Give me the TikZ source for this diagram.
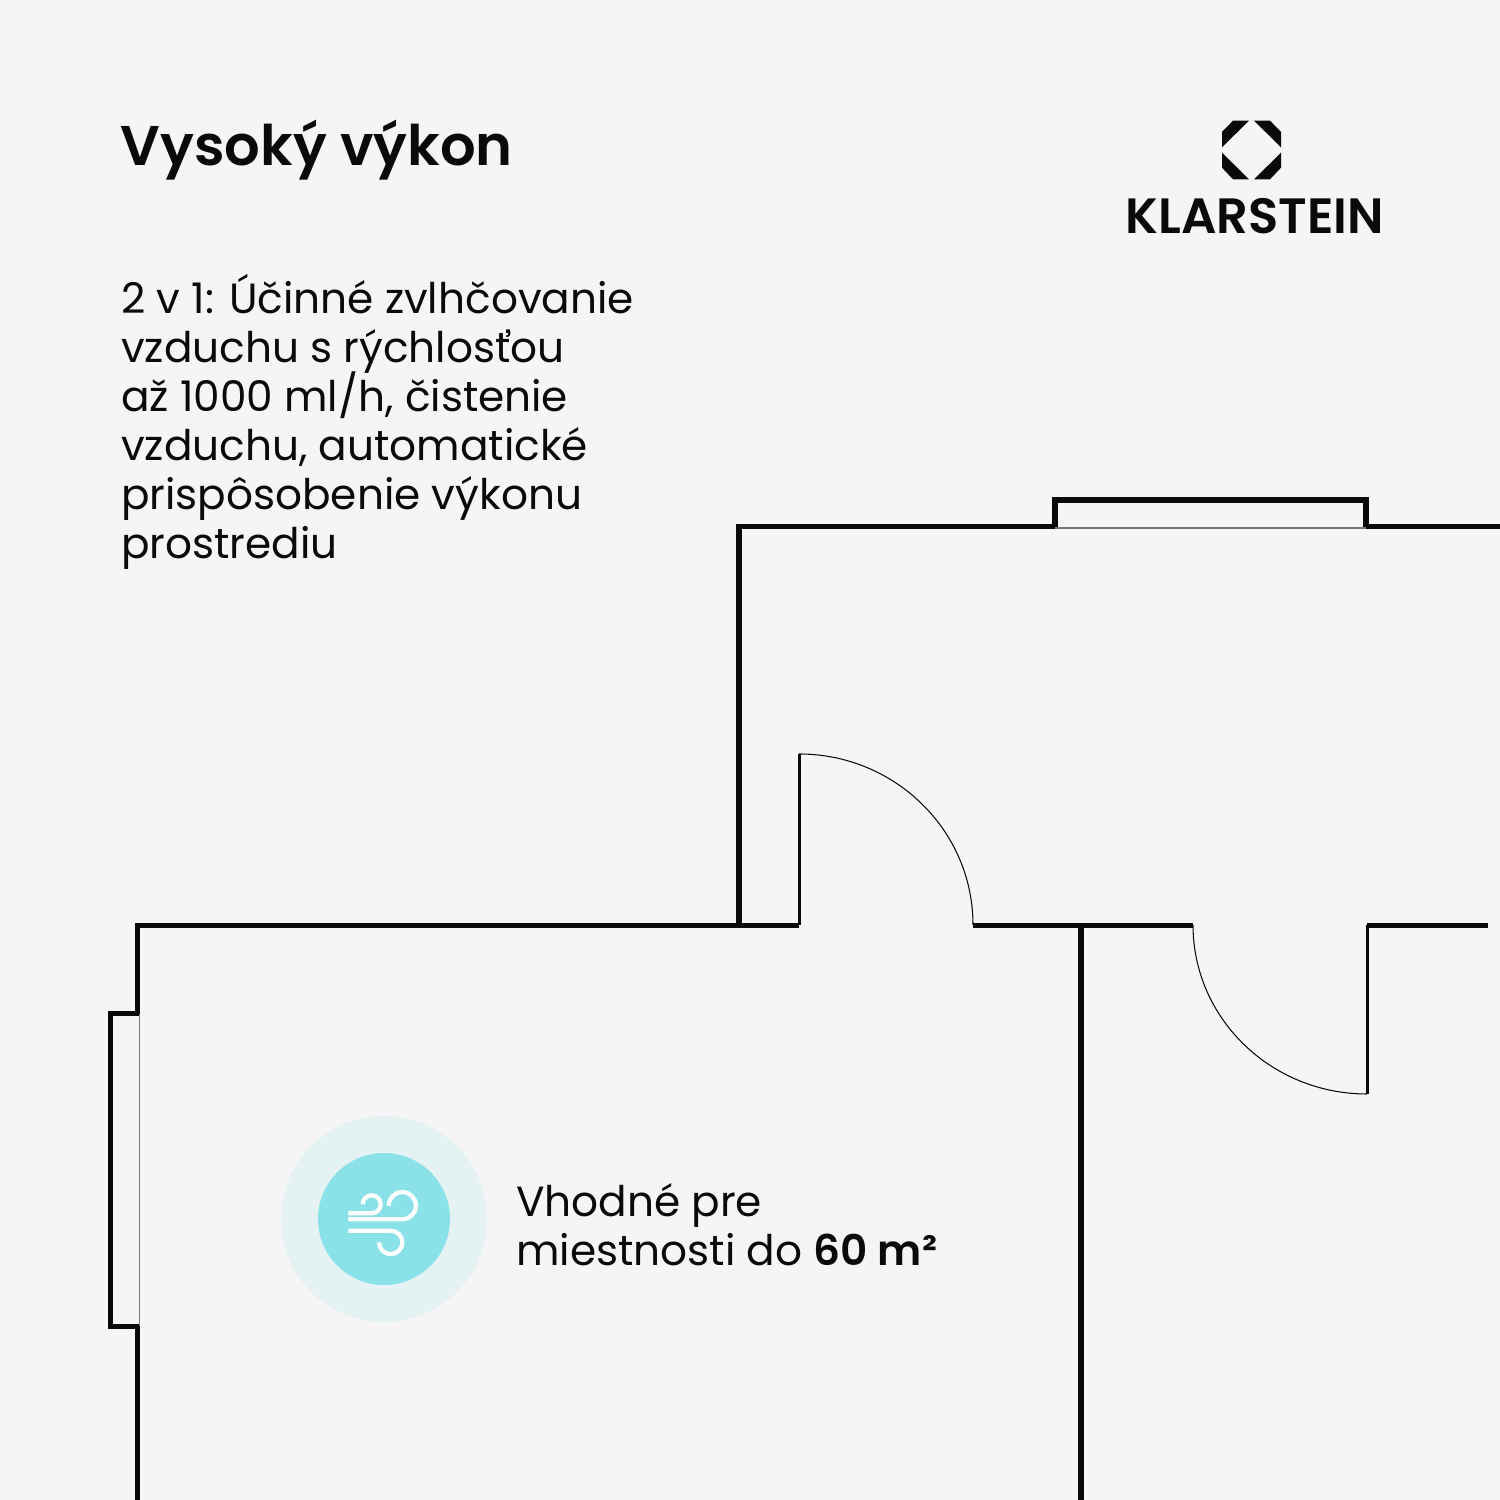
\documentclass[tikz,border=0pt]{standalone}
\usepackage{fontspec}
\setmainfont{Poppins}
\newfontfamily\headfont{Poppins SemiBold}
\definecolor{pagebg}{HTML}{F5F5F5}
\definecolor{halo}{HTML}{E4F2F3}
\definecolor{disc}{HTML}{8AE1E7}
\definecolor{ink}{HTML}{0A0A0A}
\setlength{\lineskiplimit}{-20pt}
\tikzset{
  wall/.style={line width=1.45pt,draw=ink,line cap=butt,line join=miter},
  leaf/.style={line width=0.85pt,draw=ink},
  thin/.style={line width=0.3pt,draw=ink},
  sill/.style={line width=0.3pt,draw=ink!55},
  gust/.style={line width=1.2pt,draw=white,line cap=butt},
  logopiece/.style={fill=ink},
  txt/.style={inner sep=0pt,text=ink,align=left},
  bodytxt/.style={txt,font=\fontsize{12pt}{13.94pt}\selectfont}
}
\begin{document}
\begin{tikzpicture}[x=0.01cm,y=0.01cm]
\useasboundingbox (0,0) rectangle (1500,1500);
\fill[pagebg] (0,0) rectangle (1500,1500);

% upper room
\draw[wall] (1500,973.7) -- (1366,973.7) -- (1366,1000) -- (1055,1000) -- (1055,973.7) -- (739,973.7) -- (739,575);
\draw[sill] (1055,972) -- (1366,972);

% lower rooms
\draw[wall] (137.5,0) -- (137.5,574.7) -- (799,574.7);
\draw[wall] (973,574.7) -- (1193,574.7);
\draw[wall] (1367,574.7) -- (1488,574.7);
\draw[wall] (1081,575) -- (1081,0);
\draw[wall] (137.5,486) -- (110.5,486) -- (110.5,174) -- (137.5,174);
\draw[sill] (139.5,486) -- (139.5,174);
\fill[pagebg] (113,484) rectangle (139,176);

% doors
\draw[leaf] (799,575) -- (799,746);
\draw[thin] (799,746) arc[start angle=90,end angle=0,x radius=174,y radius=171];
\draw[leaf] (1367,575) -- (1367,406);
\draw[thin] (1193,575) arc[start angle=180,end angle=270,x radius=174,y radius=169];

% badge
\fill[halo] (384,281) circle (103);
\fill[disc] (384,281) circle (66);
\draw[gust] (348.3,286.7) -- (371.7,286.7) arc[start angle=-90,end angle=180,radius=9];
\draw[gust] (348.3,280.7) -- (402.3,280.7) arc[start angle=-90,end angle=180,radius=13.6];
\draw[gust] (348.3,269.3) -- (390.7,269.3) arc[start angle=90,end angle=-180,radius=11.7];

% logo
\fill[logopiece] (1233,1379.3) -- (1249,1379.3) -- (1222,1352.7) -- (1222,1368) -- cycle;
\fill[logopiece] (1254,1379.3) -- (1270,1379.3) -- (1281,1368) -- (1281,1352.7) -- cycle;
\fill[logopiece] (1222,1347.3) -- (1249,1320.7) -- (1233,1320.7) -- (1222,1332.3) -- cycle;
\fill[logopiece] (1281,1347.3) -- (1281,1332.3) -- (1270,1320.7) -- (1254,1320.7) -- cycle;

\node(brand) at (1125,1266)[txt,anchor=base west,font=\fontsize{14.1pt}{16pt}\headfont]{KLARSTEIN};
\node(title) at (120,1334)[txt,anchor=base west,font=\fontsize{15.9pt}{20pt}\headfont]{Vysoký výkon};
\node(intro) at (120.5,1226)[bodytxt,anchor=north west]{2 v 1: Účinné zvlhčovanie\\vzduchu s rýchlosťou\\až 1000 ml/h, čistenie\\vzduchu, automatické\\prispôsobenie výkonu\\prostrediu};
\node(fit) at (515.5,317)[bodytxt,anchor=north west]{Vhodné pre\\miestnosti do {\headfont 60 m²}};
\end{tikzpicture}
\end{document}
